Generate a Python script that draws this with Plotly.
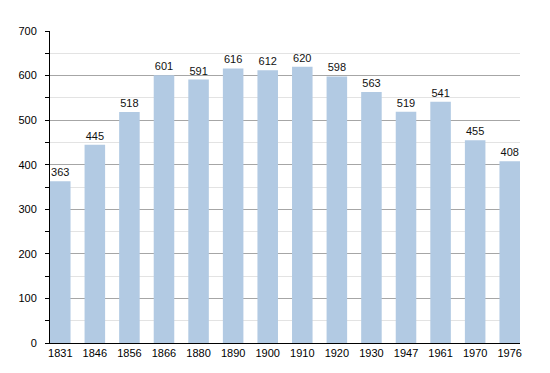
import plotly.graph_objects as go

years = ["1831", "1846", "1856", "1866", "1880", "1890", "1900", "1910", "1920", "1930", "1947", "1961", "1970", "1976"]
population = [363, 445, 518, 601, 591, 616, 612, 620, 598, 563, 519, 541, 455, 408]

fig = go.Figure(go.Bar(
    x=years, y=population,
    marker=dict(color="#b2cae3", line=dict(width=0)),
    text=[str(v) for v in population], textposition="outside",
    textfont=dict(size=11, color="#111111", family="Liberation Sans, Arial, sans-serif"),
    cliponaxis=False, width=0.594,
))

fig.update_layout(
    width=550, height=373,
    margin=dict(l=50, r=30, t=31, b=30),
    plot_bgcolor="white", paper_bgcolor="white",
    font=dict(family="Liberation Sans, Arial, sans-serif", size=11, color="#000000"),
    showlegend=False,
    xaxis=dict(
        type="category", range=[-0.297, 13.297],
        showline=True, linecolor="#000000", linewidth=1,
        ticks="", showgrid=False, tickfont=dict(size=11),
    ),
    yaxis=dict(
        range=[0, 700], dtick=100, tick0=0,
        showline=True, linecolor="#000000", linewidth=1,
        ticks="outside", ticklen=4, tickcolor="#000000",
        showgrid=True, gridcolor="#a6a6a6", gridwidth=1,
        zeroline=False, tickfont=dict(size=11), ticklabelstandoff=6,
        minor=dict(dtick=50, tick0=0, showgrid=True, gridcolor="#e3e3e3",
                   ticks="outside", ticklen=4, tickcolor="#000000"),
    ),
)

fig.write_html("out.html", config={"displayModeBar": False},
               post_script="document.body.style.margin='0';document.body.style.overflow='hidden';")
